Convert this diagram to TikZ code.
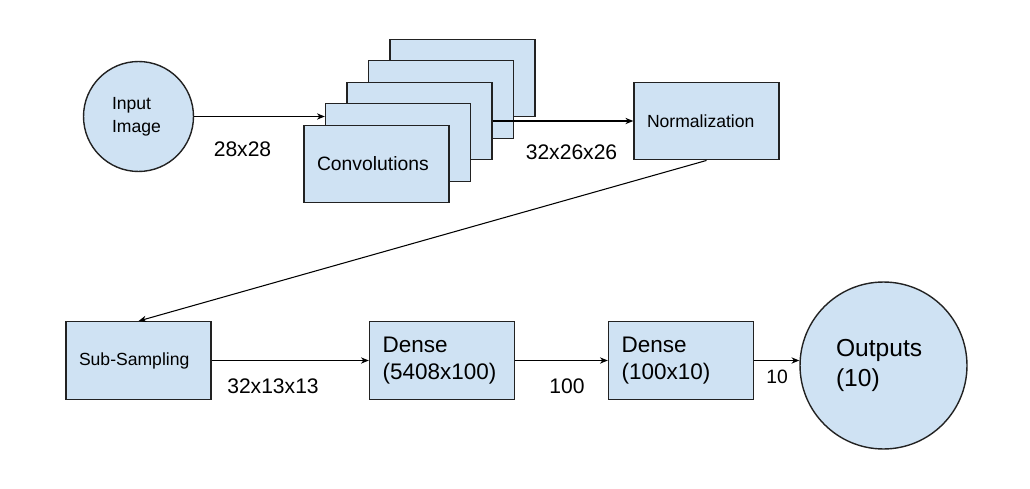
\documentclass[tikz,border=0pt]{standalone}
\usepackage{fontspec}
\setmainfont{Liberation Sans}
\usepackage{xcolor}
\usetikzlibrary{arrows.meta}
\definecolor{layerblue}{HTML}{CFE2F3}
\definecolor{edgegray}{HTML}{222222}

\begin{document}
\begin{tikzpicture}[x=0.02cm, y=-0.02cm, >={Stealth[length=4.5pt,width=3.6pt]},
    layer/.style={draw=edgegray, line width=0.8pt, rectangle, fill=layerblue, minimum width=2.9cm, minimum height=1.55cm, text width=2.38cm, inner xsep=0.26cm, align=left},
    blob/.style={draw=edgegray, line width=0.8pt, circle, fill=layerblue, align=left, inner sep=0pt},
    dimlabel/.style={font=\fontsize{12}{14}\selectfont}]
    \useasboundingbox (0,0) rectangle (1030,489);

    % Input
    \node[blob, minimum size=2.2cm, text width=1.06cm, font=\fontsize{10}{13}\selectfont] (inp) at (138.5,116.5) {Input\\Image};

    % Convolution stack, back to front
    \node[layer] (conv5) at (462.5,78) {};
    \node[layer] (conv4) at (441,99.5) {};
    \node[layer] (conv3) at (419.5,121) {};
    \node[layer] (conv2) at (398,142.5) {};
    \node[layer, font=\fontsize{11}{13}\selectfont] (conv1) at (376.5,164) {Convolutions};

    % Other layers
    \node[layer, font=\fontsize{10}{12}\selectfont] (norm) at (706.5,121) {Normalization};
    \node[layer, font=\fontsize{10}{12}\selectfont] (sub) at (138.5,360.5) {Sub-Sampling};
    \node[layer, font=\fontsize{12.8}{15.3}\selectfont] (dense1) at (442,360.5) {Dense\\(5408x100)};
    \node[layer, font=\fontsize{12.8}{15.3}\selectfont] (dense2) at (681,360.5) {Dense\\(100x10)};
    \node[blob, minimum size=3.34cm, text width=1.9cm, font=\fontsize{14}{17}\selectfont] (out) at (883.5,365.5) {Outputs\\(10)};

    % Sizes
    \node[dimlabel] (s28) at (242.5,149) {28x28};
    \node[dimlabel] (s32a) at (571.5,152) {32x26x26};
    \node[dimlabel] (s32b) at (273,386) {32x13x13};
    \node[dimlabel] (s100) at (567,386) {100};
    \node[dimlabel, font=\fontsize{11}{13}\selectfont] (s10) at (777,377) {10};

    % Connections
    \draw[->, line width=0.6pt] (inp) -- (inp -| conv2.west);
    \draw[->, line width=0.6pt] (conv3.east) -- (norm.west);
    \draw[->, line width=0.6pt] (norm.south) -- (sub.north);
    \draw[->, line width=0.6pt] (sub) -- (dense1);
    \draw[->, line width=0.6pt] (dense1) -- (dense2);
    \draw[->, line width=0.6pt] (dense2.east) -- (dense2.east -| out.west);
\end{tikzpicture}
\end{document}
